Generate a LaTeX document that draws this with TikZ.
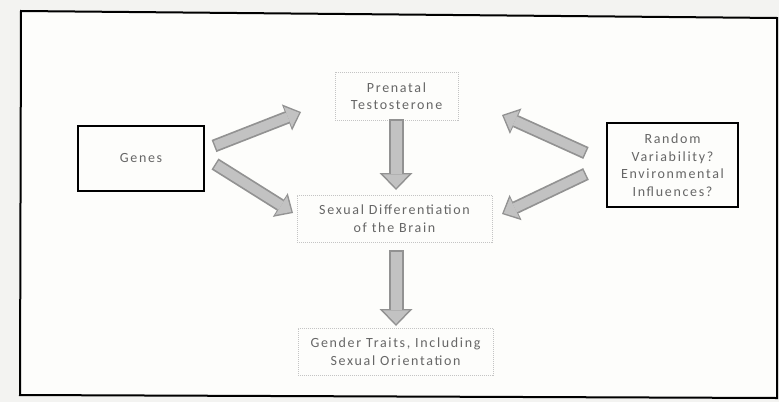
\documentclass[tikz,border=0pt]{standalone}
\usepackage{fontspec}
\setmainfont{Carlito}
\usetikzlibrary{arrows.meta}
\definecolor{paper}{HTML}{F3F3F1}
\definecolor{inner}{HTML}{FDFDFB}
\definecolor{txt}{HTML}{666666}
\definecolor{dotline}{HTML}{C4C4C4}
\definecolor{arrowedge}{HTML}{929292}
\definecolor{arrowfill}{HTML}{C2C2C2}
\tikzset{
  lbl/.style={font=\fontsize{14}{17.5}\selectfont\addfontfeatures{LetterSpace=12}, text=txt, align=center, inner sep=0pt},
  solidbox/.style={lbl, draw=black, line width=1.6pt},
  dotbox/.style={lbl, draw=dotline, line width=0.7pt, dash pattern=on 1pt off 1pt},
  arrout/.style={line width=15pt, draw=arrowedge, -{Triangle[length=17pt,width=33pt,line width=0pt]}},
  arrin/.style={line width=11pt, draw=arrowfill, -{Triangle[length=13.5pt,width=26pt,line width=0pt]}, shorten >=2.2pt, shorten <=1.5pt},
  darrout/.style={line width=13pt, draw=arrowedge, -{Triangle[length=15pt,width=28pt,line width=0pt]}},
  darrin/.style={line width=9.5pt, draw=arrowfill, -{Triangle[length=12pt,width=22pt,line width=0pt]}, shorten >=2pt, shorten <=1.5pt},
}
\begin{document}
\begin{tikzpicture}[x=1pt,y=-1pt]
\useasboundingbox (0,0) rectangle (779,402);
\fill[paper] (0,0) rectangle (779,402);
\filldraw[fill=inner, draw=black, line width=2pt] (21,11) -- (777,18) -- (777,398) -- (20,395) -- cycle;

\node[solidbox, minimum width=126pt, minimum height=65pt] (genes) at (141,158.5) {Genes};
\node[dotbox, minimum width=123pt, minimum height=48pt] (pre) at (396.5,96) {Prenatal\\Testosterone};
\node[solidbox, minimum width=131pt, minimum height=84pt] (rand) at (672.5,165) {Random\\Variability?\\Environmental\\Influences?};
\node[dotbox, minimum width=195pt, minimum height=47pt] (sex) at (394.5,218.5) {Sexual Differentiation\\of the Brain};
\node[dotbox, minimum width=195pt, minimum height=47pt] (gen) at (395.5,351.5) {Gender Traits, Including\\Sexual Orientation};

\coordinate (a1s) at (214,146); \coordinate (a1e) at (301,112);
\coordinate (a2s) at (215,164); \coordinate (a2e) at (293,213);
\coordinate (a3s) at (396,119); \coordinate (a3e) at (396,190);
\coordinate (a4s) at (586,153); \coordinate (a4e) at (502,115);
\coordinate (a5s) at (586,174); \coordinate (a5e) at (502,214);
\coordinate (a6s) at (396,250); \coordinate (a6e) at (396,326);

\foreach \s/\e in {a1s/a1e,a2s/a2e,a4s/a4e,a5s/a5e}{
  \draw[darrout] (\s) -- (\e);
  \draw[darrin] (\s) -- (\e);
}
\foreach \s/\e in {a3s/a3e,a6s/a6e}{
  \draw[arrout] (\s) -- (\e);
  \draw[arrin] (\s) -- (\e);
}
\end{tikzpicture}
\end{document}
